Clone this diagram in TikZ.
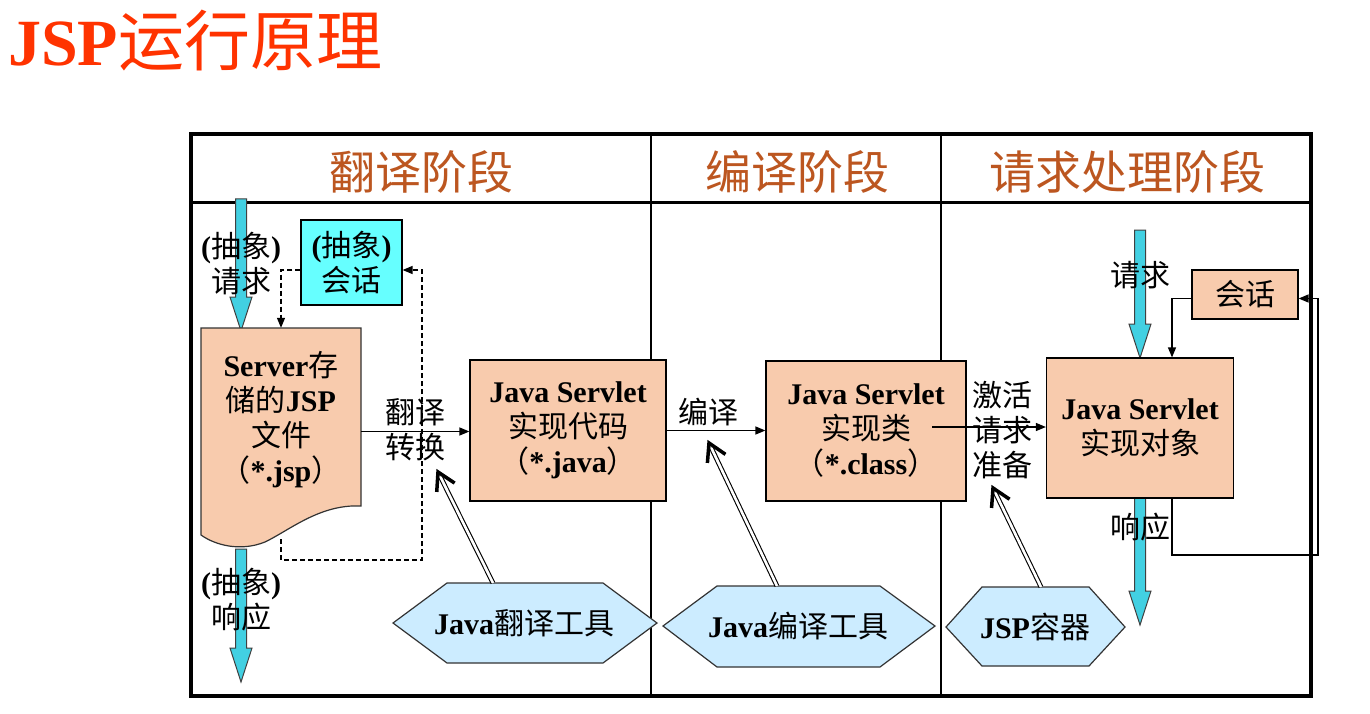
\documentclass[tikz,border=0pt]{standalone}
\usepackage{fontspec}
\setmainfont{Liberation Serif}
\newfontfamily\cjk{Noto Sans CJK SC}
\usetikzlibrary{arrows.meta,calc}
\definecolor{peach}{RGB}{248,203,173}
\definecolor{aqua}{RGB}{102,255,255}
\definecolor{fatcyan}{RGB}{66,208,226}
\definecolor{hexblue}{RGB}{204,236,255}
\definecolor{titlered}{RGB}{255,51,0}
\definecolor{hdrbrown}{RGB}{188,86,32}
\newcommand{\zhs}[1]{{\cjk\mdseries #1}}
\newcommand{\lat}[1]{{\bfseries #1}}
\newcommand{\bodyfont}{\fontsize{30}{35}\selectfont}
\newcommand{\myfatarrow}[3]{%
  \filldraw[fatarr] (#1-5.5,#2) -- (#1+5.5,#2) -- (#1+5.5,#3-34) -- (#1+11,#3-34)
    -- (#1,#3) -- (#1-11,#3-34) -- (#1-5.5,#3-34) -- cycle;}
\newcommand{\mydbl}[2]{%
  \draw[dblline] (#1) -- (#2);
  \draw[barb] ($(#2)!20pt!30:(#1)$) -- (#2) -- ($(#2)!20pt!-30:(#1)$);}
\begin{document}
\begin{tikzpicture}[x=1pt,y=-1pt,
  box/.style={draw=black, line width=1.2pt, fill=peach, inner sep=0pt, align=center, font=\bodyfont},
  lbl/.style={align=center, font=\bodyfont, inner sep=0pt},
  hdr/.style={font=\cjk\fontsize{46}{50}\selectfont, text=hdrbrown, inner sep=0pt},
  arr/.style={line width=1.3pt, -{Triangle[length=10pt,width=8pt]}},
  dsh/.style={line width=1.2pt, dash pattern=on 5pt off 3pt},
  fatarr/.style={fill=fatcyan, draw=black!75, line width=1pt},
  hexs/.style={fill=hexblue, draw=black!80, line width=1.2pt},
  dblline/.style={draw=black, double=white, double distance=2.6pt, line width=1.1pt, shorten >=5pt},
  barb/.style={draw=black, line width=3.5pt}
]
\fill[white] (0,0) rectangle (1370,714);
\useasboundingbox (0,0) rectangle (1370,714);

% title
\node[anchor=base west, font=\fontsize{66}{70}\selectfont, text=titlered, inner sep=0pt] (title) at (8,66) {\lat{JSP}\zhs{运行原理}};

% frame
\draw[line width=4pt] (191,134.5) rectangle (1311,696);
\draw[line width=3pt] (191,202.5) -- (1311,202.5);
\draw[line width=2pt] (651,134.5) -- (651,696);
\draw[line width=2pt] (941,134.5) -- (941,696);

\node[hdr] (h1) at (421,172) {翻译阶段};
\node[hdr] (h2) at (797,172) {编译阶段};
\node[hdr] (h3) at (1127,172) {请求处理阶段};

% ---------- translation stage
\myfatarrow{241}{199}{331}
\myfatarrow{241}{549}{682}

\filldraw[fill=peach, draw=black!80, line width=1.2pt] (201,328) -- (361,328) -- (361,506)
  .. controls (320,504) and (290,530) .. (265,542)
  .. controls (240,552) and (215,545) .. (201,535) -- cycle;
\node[minimum width=160pt, minimum height=207pt, inner sep=0pt] (jspdoc) at (281,431.5) {};
\node[lbl] (jsptext) at (281,420) {\lat{Server}\zhs{存}\\ \zhs{储的}\lat{JSP}\\ \zhs{文件}\\ \zhs{（}\lat{*.jsp}\zhs{）}};

\node[lbl] (absreq) at (241,263.5) {\lat{(}\zhs{抽象}\lat{)}\\ \zhs{请求}};
\node[lbl] (absresp) at (241,600) {\lat{(}\zhs{抽象}\lat{)}\\ \zhs{响应}};

\node[box, fill=aqua, minimum width=101pt, minimum height=85pt] (absess) at (351.5,262.5) {\lat{(}\zhs{抽象}\lat{)}\\ \zhs{会话}};

\coordinate (docbot) at (281,539);
\coordinate (dbl) at (281,560);
\coordinate (dbr) at (422,560);
\draw[dsh, arr] ($(absess.west)+(0,7.5)$) -| (jspdoc.north);
\draw[dsh, arr] (docbot) -- (dbl) -- (dbr) |- ($(absess.east)+(0,7.5)$);

\node[box, minimum width=196pt, minimum height=141pt] (java) at (568,430.5) {\lat{Java Servlet}\\ \zhs{实现代码}\\ \zhs{（}\lat{*.java}\zhs{）}};
\draw[arr] (jspdoc.east) -- (jspdoc.east -| java.west);
\node[lbl] (trans) at (415,430) {\zhs{翻译}\\ \zhs{转换}};

% ---------- compile stage
\node[box, minimum width=200pt, minimum height=140pt] (cls) at (866,431) {\lat{Java Servlet}\\ \zhs{实现类}\\ \zhs{（}\lat{*.class}\zhs{）}};
\draw[arr] (java.east) -- (java.east -| cls.west);
\node[lbl] (comp) at (708,412) {\zhs{编译}};

% ---------- request stage
\myfatarrow{1140}{230}{358}
\myfatarrow{1140}{496}{625}
\node[box, minimum width=187pt, minimum height=140pt] (obj) at (1140,428) {\lat{Java Servlet}\\ \zhs{实现对象}};
\node[lbl] (req) at (1140,275) {\zhs{请求}};
\node[lbl] (resp) at (1140,527) {\zhs{响应}};

\coordinate (actstart) at (932,427);
\draw[arr] (actstart) -- (actstart -| obj.west);
\node[lbl] (act) at (1002,430) {\zhs{激活}\\ \zhs{请求}\\ \zhs{准备}};

\node[box, minimum width=106pt, minimum height=49pt] (sess) at (1245,294.5) {\zhs{会话}};
\draw[arr] ($(sess.west)+(0,4)$) -| ($(obj.north)+(32,0)$);
\coordinate (loopbr) at (1318,555);
\draw[arr] ($(obj.south)+(32,0)$) |- (loopbr) |- ($(sess.east)+(0,4)$);

% ---------- hexagons
\filldraw[hexs] (393,623) -- (447,583) -- (603,583) -- (657,623) -- (603,663) -- (447,663) -- cycle;
\node[lbl] (tool1) at (524,623) {\lat{Java}\zhs{翻译工具}};
\filldraw[hexs] (663,626) -- (717,586) -- (880,586) -- (935,626) -- (880,667) -- (717,667) -- cycle;
\node[lbl] (tool2) at (798,626) {\lat{Java}\zhs{编译工具}};
\filldraw[hexs] (946,627) -- (982,587) -- (1089,587) -- (1125,627) -- (1089,666) -- (982,666) -- cycle;
\node[lbl] (tool3) at (1035,627) {\lat{JSP}\zhs{容器}};

\coordinate (t1top) at (493,583);
\coordinate (t1tip) at (438,472);
\coordinate (t2top) at (777,586);
\coordinate (t2tip) at (709,443);
\coordinate (t3top) at (1041,587);
\coordinate (t3tip) at (993,488);
\mydbl{t1top}{t1tip}
\mydbl{t2top}{t2tip}
\mydbl{t3top}{t3tip}
\end{tikzpicture}
\end{document}
